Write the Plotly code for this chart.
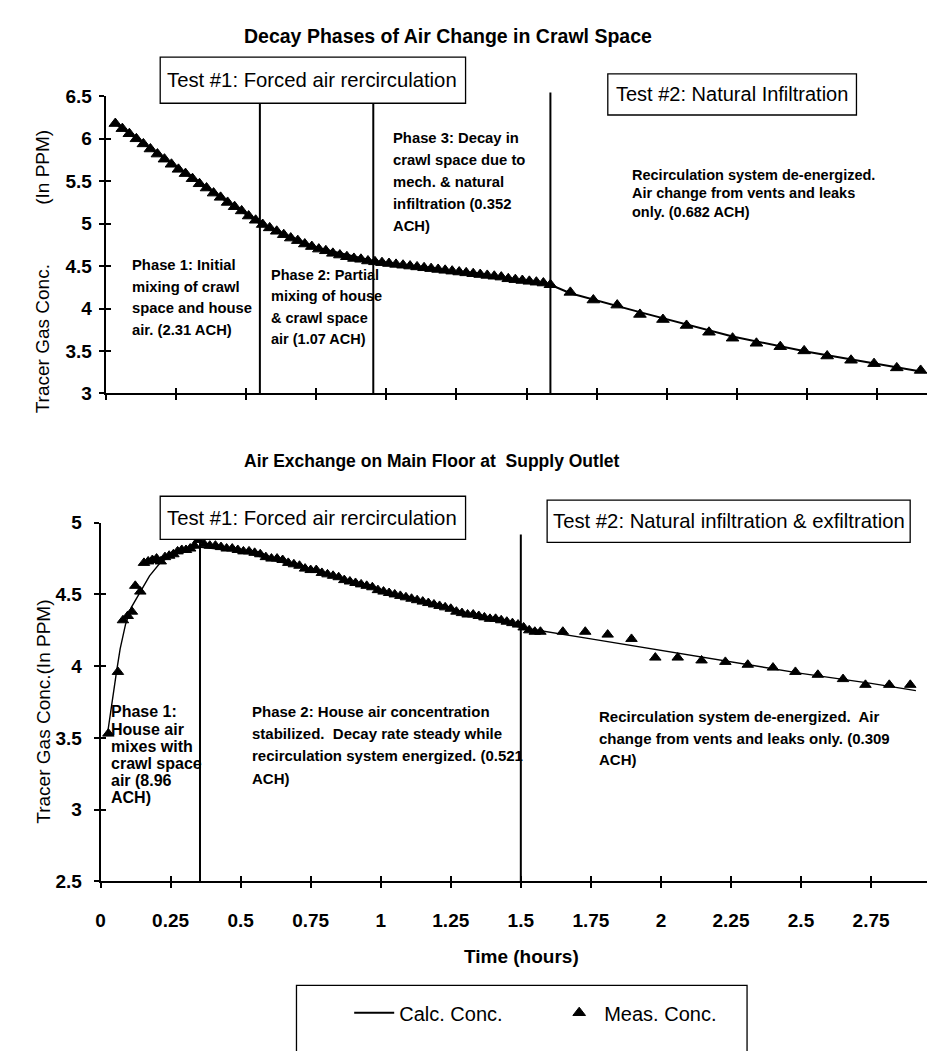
import plotly.graph_objects as go

W, H = 935, 1051
FONT = "Liberation Sans, Arial, Helvetica, sans-serif"
NARROW = "Liberation Sans Narrow, Arial Narrow, Liberation Sans, Arial, sans-serif"

# ---------------- data ----------------
# Top chart: crawl space decay
top_meas_t = [0.035, 0.060, 0.085, 0.110, 0.135, 0.160, 0.185, 0.210, 0.235, 0.260,
              0.285, 0.310, 0.335, 0.360, 0.385, 0.410, 0.435, 0.460, 0.485, 0.510,
              0.535, 0.560, 0.585, 0.610, 0.635, 0.660, 0.685, 0.710, 0.735, 0.760,
              0.785, 0.810, 0.835, 0.860, 0.885, 0.910, 0.935, 0.960, 0.985, 1.010,
              1.035, 1.060, 1.085, 1.110, 1.135, 1.160, 1.185, 1.210, 1.235, 1.260,
              1.285, 1.310, 1.335, 1.360, 1.385, 1.410, 1.435, 1.460, 1.485, 1.510,
              1.535, 1.560, 1.585,
              1.656, 1.738, 1.823, 1.904, 1.986, 2.070, 2.150, 2.234, 2.319, 2.404,
              2.489, 2.571, 2.656, 2.738, 2.819, 2.904]
top_meas_v = [6.18, 6.12, 6.06, 6.00, 5.94, 5.88, 5.82, 5.76, 5.70, 5.64,
              5.59, 5.53, 5.47, 5.42, 5.36, 5.31, 5.25, 5.20, 5.15, 5.09,
              5.04, 4.99, 4.95, 4.91, 4.87, 4.83, 4.80, 4.76, 4.73, 4.70,
              4.68, 4.65, 4.63, 4.61, 4.59, 4.58, 4.56, 4.55, 4.54, 4.53,
              4.52, 4.51, 4.50, 4.49, 4.48, 4.47, 4.46, 4.45, 4.44, 4.43,
              4.42, 4.41, 4.40, 4.39, 4.38, 4.37, 4.35, 4.34, 4.33, 4.32,
              4.31, 4.30, 4.28,
              4.19, 4.10, 4.04, 3.93, 3.87, 3.80, 3.72, 3.65, 3.59, 3.55,
              3.50, 3.44, 3.39, 3.35, 3.30, 3.27]
top_calc_t = [0.035, 0.20, 0.40, 0.55, 0.75, 0.954, 1.25, 1.585, 1.656, 1.90, 2.234, 2.50, 2.92]
top_calc_v = [6.18, 5.79, 5.33, 5.00, 4.72, 4.56, 4.43, 4.28, 4.18, 3.96, 3.67, 3.49, 3.25]
top_phase_lines = [0.55, 0.954, 1.585]

# Bottom chart: main floor supply outlet
bot_meas_t = [0.028, 0.062, 0.080, 0.097, 0.112, 0.124, 0.142, 0.155, 0.170, 0.185,
              0.200, 0.215, 0.230, 0.245, 0.260, 0.275, 0.290, 0.305, 0.320, 0.335,
              0.350,
              0.37, 0.39, 0.41, 0.43, 0.45, 0.47, 0.49, 0.51, 0.53, 0.55,
              0.57, 0.59, 0.61, 0.63, 0.65, 0.67, 0.69, 0.71, 0.73, 0.75,
              0.77, 0.79, 0.81, 0.83, 0.85, 0.87, 0.89, 0.91, 0.93, 0.95,
              0.97, 0.99, 1.01, 1.03, 1.05, 1.07, 1.09, 1.11, 1.13, 1.15,
              1.17, 1.19, 1.21, 1.23, 1.25, 1.27, 1.29, 1.31, 1.33, 1.35,
              1.37, 1.39, 1.41, 1.43, 1.45, 1.47, 1.49, 1.51, 1.53, 1.55, 1.57,
              1.650, 1.730, 1.810, 1.895, 1.980, 2.060, 2.145, 2.230, 2.310, 2.400,
              2.480, 2.560, 2.650, 2.730, 2.815, 2.890]
bot_meas_v = [3.53, 3.96, 4.32, 4.35, 4.38, 4.56, 4.52, 4.72, 4.73, 4.74,
              4.75, 4.73, 4.76, 4.77, 4.78, 4.80, 4.81, 4.81, 4.82, 4.84,
              4.88,
              4.85, 4.84, 4.84, 4.83, 4.82, 4.82, 4.81, 4.80, 4.80, 4.79,
              4.78, 4.76, 4.75, 4.75, 4.74, 4.72, 4.71, 4.70, 4.68, 4.67,
              4.67, 4.65, 4.64, 4.63, 4.62, 4.60, 4.59, 4.58, 4.57, 4.56,
              4.55, 4.53, 4.52, 4.51, 4.50, 4.49, 4.48, 4.47, 4.46, 4.45,
              4.44, 4.43, 4.42, 4.41, 4.40, 4.38, 4.37, 4.36, 4.36, 4.35,
              4.34, 4.33, 4.33, 4.32, 4.31, 4.30, 4.29, 4.27, 4.25, 4.24, 4.24,
              4.24, 4.24, 4.22, 4.19, 4.06, 4.06, 4.04, 4.03, 4.01, 3.99,
              3.96, 3.94, 3.91, 3.87, 3.87, 3.87]
bot_calc_t = [0.025, 0.040, 0.057, 0.070, 0.089, 0.110, 0.142, 0.175, 0.213, 0.250,
              0.280, 0.350, 0.50, 0.75, 1.00, 1.25, 1.50, 1.75, 2.00, 2.25,
              2.50, 2.75, 2.91]
bot_calc_v = [3.53, 3.74, 3.96, 4.12, 4.29, 4.41, 4.52, 4.63, 4.72, 4.77,
              4.80, 4.83, 4.80, 4.67, 4.53, 4.40, 4.27, 4.19, 4.11, 4.03,
              3.95, 3.88, 3.83]
bot_phase_lines = [0.355, 1.5]

x_tick_vals = [0, 0.25, 0.5, 0.75, 1, 1.25, 1.5, 1.75, 2, 2.25, 2.5, 2.75, 3]
x_tick_text = ["0", "0.25", "0.5", "0.75", "1", "1.25", "1.5", "1.75", "2", "2.25", "2.5", "2.75", "3"]
top_y_vals = [3, 3.5, 4, 4.5, 5, 5.5, 6, 6.5]
top_y_text = ["3", "3.5", "4", "4.5", "5", "5.5", "6", "6.5"]
bot_y_vals = [2.5, 3, 3.5, 4, 4.5, 5]
bot_y_text = ["2.5", "3", "3.5", "4", "4.5", "5"]


def px(x):
    return x / W


def py(y):
    return 1 - y / H


fig = go.Figure()

# ---------------- traces ----------------
fig.add_trace(go.Scatter(x=top_calc_t, y=top_calc_v, mode="lines", name="Calc. Conc.",
                         line=dict(color="black", width=2), xaxis="x", yaxis="y"))
fig.add_trace(go.Scatter(x=top_meas_t, y=top_meas_v, mode="markers", name="Meas. Conc.",
                         marker=dict(symbol="triangle-up", size=11, color="black",
                                     line=dict(color="black", width=1)),
                         xaxis="x", yaxis="y"))
fig.add_trace(go.Scatter(x=bot_calc_t, y=bot_calc_v, mode="lines", showlegend=False,
                         line=dict(color="black", width=1.4), xaxis="x2", yaxis="y2"))
fig.add_trace(go.Scatter(x=bot_meas_t, y=bot_meas_v, mode="markers", showlegend=False,
                         marker=dict(symbol="triangle-up", size=10, color="black",
                                     line=dict(color="black", width=1)),
                         xaxis="x2", yaxis="y2"))
# dummy traces so the tick-overlay axes render
fig.add_trace(go.Scatter(x=[None], y=[None], xaxis="x3", yaxis="y3", showlegend=False, hoverinfo="skip"))
fig.add_trace(go.Scatter(x=[None], y=[None], xaxis="x4", yaxis="y4", showlegend=False, hoverinfo="skip"))

# ---------------- axes ----------------
top_xdom = [px(93), 1.0]
top_xrange = [0, (935 - 93) / 282.2]
bot_xdom = [px(88), 1.0]
bot_xrange = [0, (935 - 88) / 281.7]
top_ydom = [py(383), py(80)]
bot_ydom = [py(881), py(515)]

tickfont = dict(family=FONT, size=19, color="black", weight="bold")
common = dict(showgrid=False, zeroline=False, showline=True, linecolor="black",
              linewidth=1.8, ticks="outside", ticklen=5, tickwidth=1.5, tickcolor="black",
              tickfont=tickfont, tickmode="array")
overlay = dict(showgrid=False, zeroline=False, showline=False, ticks="inside",
               ticklen=5, tickwidth=1.5, tickcolor="black", showticklabels=False,
               tickmode="array")

fig.update_layout(
    xaxis=dict(domain=top_xdom, range=top_xrange, anchor="y", tickvals=x_tick_vals,
               showticklabels=False, **common),
    yaxis=dict(domain=top_ydom, range=[3, 6.5], anchor="x", tickvals=top_y_vals,
               ticktext=top_y_text, ticklabelstandoff=3, **common),
    xaxis2=dict(domain=bot_xdom, range=bot_xrange, anchor="y2", tickvals=x_tick_vals,
                ticktext=x_tick_text, ticklabelstandoff=16, **common),
    yaxis2=dict(domain=bot_ydom, range=[2.5, 5], anchor="x2", tickvals=bot_y_vals,
                ticktext=bot_y_text, ticklabelstandoff=8, **common),
    xaxis3=dict(overlaying="x", anchor="y", range=top_xrange, tickvals=x_tick_vals, **overlay),
    yaxis3=dict(overlaying="y", anchor="x", range=[3, 6.5], tickvals=top_y_vals, **overlay),
    xaxis4=dict(overlaying="x2", anchor="y2", range=bot_xrange, tickvals=x_tick_vals, **overlay),
    yaxis4=dict(overlaying="y2", anchor="x2", range=[2.5, 5], tickvals=bot_y_vals, **overlay),
)

# ---------------- phase separator lines ----------------
shapes = []
top_line_tops = [87, 87, 76]
for t, ytop in zip(top_phase_lines, top_line_tops):
    shapes.append(dict(type="line", xref="x", yref="paper", x0=t, x1=t,
                       y0=py(383), y1=py(ytop), line=dict(color="black", width=2)))
bot_line_tops = [527, 527]
for t, ytop in zip(bot_phase_lines, bot_line_tops):
    shapes.append(dict(type="line", xref="x2", yref="paper", x0=t, x1=t,
                       y0=py(881), y1=py(ytop), line=dict(color="black", width=2)))

# boxes for test labels
boxes = [(148, 40, 455, 87), (598, 57, 848, 99), (148, 488, 455, 532), (537, 492, 902, 535)]
for (x0, y0, x1, y1) in boxes:
    shapes.append(dict(type="rect", xref="paper", yref="paper", x0=px(x0), x1=px(x1),
                       y0=py(y1), y1=py(y0), line=dict(color="black", width=1.3),
                       fillcolor="white", layer="above"))
# legend frame
shapes.append(dict(type="rect", xref="paper", yref="paper", x0=px(285), x1=px(738),
                   y0=py(1060), y1=py(987), line=dict(color="black", width=1.3)))
fig.update_layout(shapes=shapes)

# ---------------- text ----------------
def add_text(x, y, text, size, bold=False, xanchor="left", family=FONT, angle=0):
    fig.add_annotation(x=px(x), y=py(y), xref="paper", yref="paper", text=text,
                       showarrow=False, xanchor=xanchor, yanchor="middle", textangle=angle,
                       font=dict(family=family, size=size, color="black",
                                 weight="bold" if bold else "normal"))


def add_lines(x, y0, dy, lines, size, bold=True):
    for i, s in enumerate(lines):
        add_text(x, y0 + i * dy, s, size, bold=bold)


# titles
add_text(437, 18, "Decay Phases of Air Change in Crawl Space", 19.5, bold=True, xanchor="center")
add_text(421, 452, "Air Exchange on Main Floor at  Supply Outlet", 17.5, bold=True, xanchor="center")

# test boxes text
add_text(301, 63, "Test #1: Forced air rercirculation", 20.3, xanchor="center")
add_text(723, 78, "Test #2: Natural Infiltration", 20, xanchor="center")
add_text(301, 510, "Test #1: Forced air rercirculation", 20.3, xanchor="center")
add_text(720, 513, "Test #2: Natural infiltration &amp; exfiltration", 20.3, xanchor="center")

# top chart phase notes
add_lines(118, 252, 22, ["Phase 1: Initial", "mixing of crawl", "space and house",
                         "air. (2.31 ACH)"], 14.8)
add_lines(257, 262, 22, ["Phase 2: Partial", "mixing of house", "&amp; crawl space",
                         "air (1.07 ACH)"], 14.5)
add_lines(380, 122, 22.5, ["Phase 3: Decay in", "crawl space due to", "mech. &amp; natural",
                           "infiltration (0.352", "ACH)"], 14.8)
add_lines(620, 160, 19, ["Recirculation system de-energized.",
                         "Air change from vents and leaks", "only. (0.682 ACH)"], 14.5)

# bottom chart phase notes
add_lines(97, 708, 17.5, ["Phase 1:", "House air", "mixes with", "crawl space",
                          "air (8.96", "ACH)"], 16)
add_lines(238, 708, 22.5, ["Phase 2: House air concentration",
                           "stabilized.  Decay rate steady while",
                           "recirculation system energized. (0.521", "ACH)"], 15)
add_lines(587, 713, 22, ["Recirculation system de-energized.  Air",
                         "change from vents and leaks only. (0.309", "ACH)"], 15)

# axis titles
add_text(30, 327, "Tracer Gas Conc.", 19, xanchor="center", family=NARROW, angle=-90)
add_text(30, 152, "(In PPM)", 19, xanchor="center", family=NARROW, angle=-90)
add_text(31, 708, "Tracer Gas Conc.(In PPM)", 19, xanchor="center", family=NARROW, angle=-90)
add_text(511, 958, "Time (hours)", 19, bold=True, xanchor="center")

fig.update_layout(
    width=W, height=H,
    margin=dict(l=0, r=0, t=0, b=0),
    paper_bgcolor="white", plot_bgcolor="white",
    showlegend=True,
    legend=dict(orientation="h", x=px(338), y=py(1015), xanchor="left", yanchor="middle",
                font=dict(family=FONT, size=20, color="black"), bgcolor="rgba(0,0,0,0)",
                borderwidth=0, entrywidth=150, entrywidthmode="pixels", itemwidth=40),
)

fig.write_html("out.html")
